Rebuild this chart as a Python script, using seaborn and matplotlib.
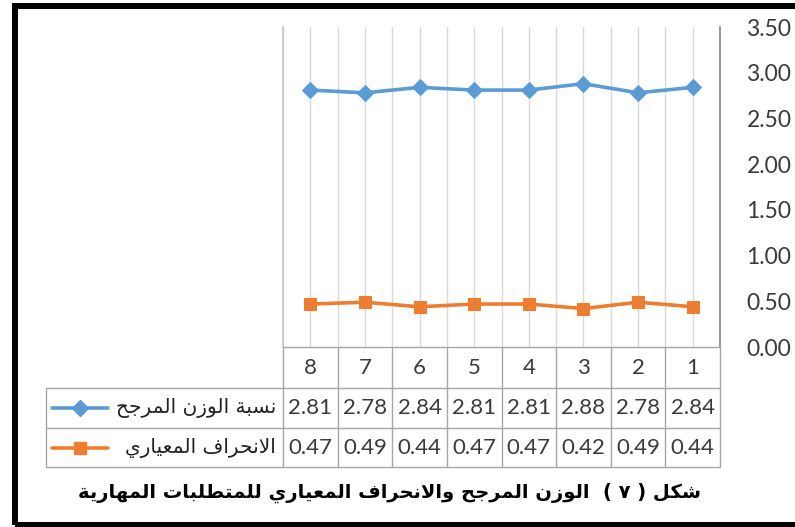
import unicodedata
import matplotlib
matplotlib.use("Agg")
import matplotlib.pyplot as plt
import matplotlib.transforms as mtransforms
from matplotlib.patches import Rectangle
from matplotlib.lines import Line2D
import seaborn as sns

# data (categories read right-to-left in the chart: 8 ... 1)
categories = [1, 2, 3, 4, 5, 6, 7, 8]
weighted = [2.84, 2.78, 2.88, 2.81, 2.81, 2.84, 2.78, 2.81]
std_dev = [0.44, 0.49, 0.42, 0.47, 0.47, 0.44, 0.49, 0.47]
series_names = ["نسبة الوزن المرجح", "الانحراف المعياري"]
title_text = "شكل ( ٧ )  الوزن المرجح والانحراف المعياري للمتطلبات المهارية"
y_ticks = [0.0, 0.5, 1.0, 1.5, 2.0, 2.5, 3.0, 3.5]

BLUE = "#5B9BD5"
ORANGE = "#ED7D31"
TEXT = "#3a3a3a"

# small arabic shaper (presentation forms + rtl order), matplotlib has no bidi
NAMES = {'ا': 'ALEF', 'ب': 'BEH', 'ت': 'TEH', 'ة': 'TEH MARBUTA', 'ج': 'JEEM',
         'ح': 'HAH', 'ر': 'REH', 'ز': 'ZAIN', 'س': 'SEEN', 'ش': 'SHEEN',
         'ط': 'TAH', 'ع': 'AIN', 'ف': 'FEH', 'ك': 'KAF', 'ل': 'LAM',
         'م': 'MEEM', 'ن': 'NOON', 'ه': 'HEH', 'و': 'WAW', 'ي': 'YEH', 'د': 'DAL'}
RIGHT_ONLY = set('اةرزود')


def shape(text):
    out = []
    i = 0
    while i < len(text):
        c = text[i]
        if c not in NAMES:
            out.append(c)
            i += 1
            continue
        prev = text[i - 1] if i > 0 else ''
        joins_prev = prev in NAMES and prev not in RIGHT_ONLY
        if c == 'ل' and i + 1 < len(text) and text[i + 1] == 'ا':
            f = 'FINAL' if joins_prev else 'ISOLATED'
            out.append(unicodedata.lookup('ARABIC LIGATURE LAM WITH ALEF ' + f + ' FORM'))
            i += 2
            continue
        nxt = text[i + 1] if i + 1 < len(text) else ''
        joins_next = c not in RIGHT_ONLY and nxt in NAMES
        if joins_prev and joins_next:
            f = 'MEDIAL'
        elif joins_prev:
            f = 'FINAL'
        elif joins_next:
            f = 'INITIAL'
        else:
            f = 'ISOLATED'
        out.append(unicodedata.lookup('ARABIC LETTER ' + NAMES[c] + ' ' + f + ' FORM'))
        i += 1
    return ''.join(out)[::-1].translate(str.maketrans('()', ')('))


sns.set_theme(style="white")
plt.rcParams['font.family'] = ['Lato', 'DejaVu Sans']

W, H = 795, 527
fig = plt.figure(figsize=(W / 100, H / 100), dpi=100)


def fx(px):
    return px / W


def fy(py):
    return 1 - py / H


ax = fig.add_axes([fx(283), fy(347), fx(720) - fx(283), fy(27) - fy(347)])

sns.lineplot(x=categories, y=weighted, ax=ax, color=BLUE, lw=2.6, marker='D',
             markersize=8.5, markeredgecolor=BLUE, zorder=3)
sns.lineplot(x=categories, y=std_dev, ax=ax, color=ORANGE, lw=2.6, marker='s',
             markersize=8.5, markeredgecolor=ORANGE, zorder=3)

ax.set_xlim(8.5, 0.5)
ax.set_ylim(0, 3.5)
ax.set_xticks(categories)
ax.set_xticks([c + 0.5 for c in [0] + categories], minor=True)
ax.grid(axis='x', which='both', color='#d9d9d9', lw=1)
ax.tick_params(axis='x', which='both', length=0, labelbottom=False)
ax.yaxis.tick_right()
ax.set_yticks(y_ticks)
ax.set_yticklabels([f"{v:.2f}" for v in y_ticks])
ax.tick_params(axis='y', length=0, pad=19, labelsize=16.5, labelcolor=TEXT)
for s in ['top', 'bottom']:
    ax.spines[s].set_visible(False)
ax.spines['left'].set_color('#c8c8c8')
ax.spines['right'].set_color('#8c8c8c')
ax.set_xlabel('')
ax.set_ylabel('')

# data table under the plot
tr = mtransforms.blended_transform_factory(ax.transData, fig.transFigure)
line_kw = dict(color='#a6a6a6', lw=1)
rows = [347, 388, 428, 467]
fig.add_artist(Line2D([fx(283), fx(720)], [fy(347), fy(347)], **line_kw))
for r in rows[1:]:
    fig.add_artist(Line2D([fx(46), fx(720)], [fy(r), fy(r)], **line_kw))
for b in [0.5 + c for c in [0] + categories]:
    ax.add_artist(Line2D([b, b], [fy(347), fy(467)], transform=tr, clip_on=False, **line_kw))
fig.add_artist(Line2D([fx(46), fx(46)], [fy(388), fy(467)], **line_kw))

row_mid = [(rows[k] + rows[k + 1]) / 2 for k in range(3)]
for c, wv, sv in zip(categories, weighted, std_dev):
    ax.text(c, fy(row_mid[0]), str(c), transform=tr, ha='center', va='center',
            fontsize=16, color=TEXT)
    ax.text(c, fy(row_mid[1]), f"{wv:.2f}", transform=tr, ha='center', va='center',
            fontsize=16, color=TEXT)
    ax.text(c, fy(row_mid[2]), f"{sv:.2f}", transform=tr, ha='center', va='center',
            fontsize=16, color=TEXT)

# legend keys inside the table
for k, (name, col, mk) in enumerate(zip(series_names, [BLUE, ORANGE], ['D', 's'])):
    yk = fy(row_mid[k + 1])
    fig.add_artist(Line2D([fx(52), fx(108)], [yk, yk], color=col, lw=2.6))
    fig.add_artist(Line2D([fx(80)], [yk], color=col, marker=mk, markersize=8.5))
    fig.text(fx(276), yk, shape(name), ha='right', va='center', fontsize=14.5,
             color='#222222', family='DejaVu Sans')

fig.text(fx(390), fy(493), shape(title_text), ha='center', va='center', fontsize=14,
         fontweight='bold', color='black', family='DejaVu Sans')

# black frame
fig.add_artist(Rectangle((fx(15), fy(525)), fx(820) - fx(15), fy(6) - fy(525),
                         fill=False, edgecolor='black', lw=4.3, transform=fig.transFigure))

fig.savefig("out.png", dpi=100)
